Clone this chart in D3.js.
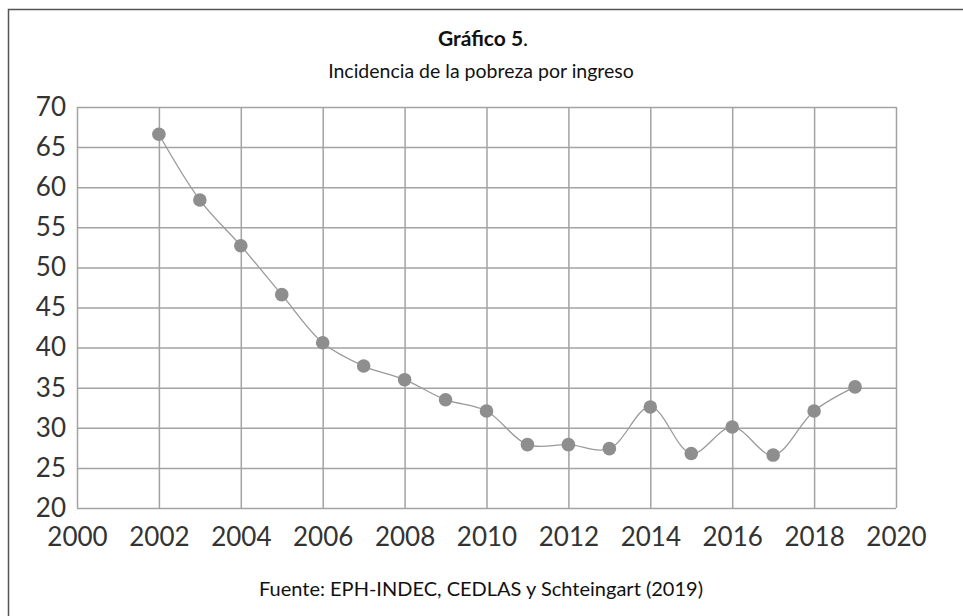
<!DOCTYPE html>
<html>
<head>
<meta charset="utf-8">
<script src="https://cdn.jsdelivr.net/npm/d3@7/dist/d3.min.js"></script>
<style>
  html, body { margin: 0; padding: 0; background: #fff; }
  svg { display: block; }
</style>
</head>
<body>
<svg id="chart" width="963" height="616"></svg>
<script>
// Incidencia de la pobreza por ingreso (%), 2002–2019
const years = [2002, 2003, 2004, 2005, 2006, 2007, 2008, 2009, 2010,
               2011, 2012, 2013, 2014, 2015, 2016, 2017, 2018, 2019];
const poverty = [66.6, 58.4, 52.7, 46.6, 40.6, 37.7, 36.0, 33.5, 32.1,
                 27.9, 27.9, 27.4, 32.6, 26.8, 30.1, 26.6, 32.1, 35.1];
const xTicks = [2000, 2002, 2004, 2006, 2008, 2010, 2012, 2014, 2016, 2018, 2020];
const yTicks = [20, 25, 30, 35, 40, 45, 50, 55, 60, 65, 70];

const titleBold = "Gráfico 5";
const subtitle = "Incidencia de la pobreza por ingreso";
const source = "Fuente: EPH-INDEC, CEDLAS y Schteingart (2019)";

const svg = d3.select("#chart");
const W = 963, H = 616;
const plot = { left: 77, right: 896, top: 107, bottom: 508 };

const x = d3.scaleLinear().domain([2000, 2020]).range([plot.left, plot.right]);
const y = d3.scaleLinear().domain([20, 70]).range([plot.bottom, plot.top]);

const textFont = "Lato, 'Open Sans', sans-serif";
const tickFont = "Lato, 'Open Sans', sans-serif";

// outer frame (top and left edges)
svg.append("path")
  .attr("d", `M8.5,${H} L8.5,9.5 L${W},9.5`)
  .attr("fill", "none")
  .attr("stroke", "#555")
  .attr("stroke-width", 1.5);

// title
const t = svg.append("text")
  .attr("x", 483).attr("y", 46)
  .attr("text-anchor", "middle")
  .style("font-family", textFont)
  .style("font-size", "21px")
  .style("fill", "#111");
t.append("tspan").style("font-weight", "bold").text(titleBold);
t.append("tspan").text(".");

svg.append("text")
  .attr("x", 481).attr("y", 78)
  .attr("text-anchor", "middle")
  .style("font-family", textFont)
  .style("font-size", "19.5px")
  .style("fill", "#111")
  .text(subtitle);

// gridlines
const grid = svg.append("g");
grid.append("g")
  .attr("transform", `translate(${plot.left},0)`)
  .call(d3.axisLeft(y).tickValues(yTicks).tickSize(-(plot.right - plot.left)).tickFormat(""))
  .call(g => g.select(".domain").remove())
  .selectAll("line").attr("stroke", "#a3a3a3").attr("stroke-width", 1.5);
grid.append("g")
  .attr("transform", `translate(0,${plot.bottom})`)
  .call(d3.axisBottom(x).tickValues(xTicks).tickSize(-(plot.bottom - plot.top)).tickFormat(""))
  .call(g => g.select(".domain").remove())
  .selectAll("line").attr("stroke", "#a3a3a3").attr("stroke-width", 1.5);

// tick labels
const yAxis = svg.append("g")
  .attr("transform", `translate(${plot.left},0)`)
  .call(d3.axisLeft(y).tickValues(yTicks).tickSize(0).tickPadding(11).tickFormat(d3.format("d")));
yAxis.select(".domain").remove();
yAxis.selectAll("text")
  .style("font-family", tickFont)
  .style("font-size", "26px")
  .style("fill", "#333");

const xAxis = svg.append("g")
  .attr("transform", `translate(0,${plot.bottom})`)
  .call(d3.axisBottom(x).tickValues(xTicks).tickSize(0).tickPadding(20).tickFormat(d3.format("d")));
xAxis.select(".domain").remove();
xAxis.selectAll("text")
  .style("font-family", tickFont)
  .style("font-size", "26px")
  .style("fill", "#333");

// series
const pts = years.map((yr, i) => [yr, poverty[i]]);
svg.append("path")
  .datum(pts)
  .attr("fill", "none")
  .attr("stroke", "#9a9a9a")
  .attr("stroke-width", 1.3)
  .attr("d", d3.line().x(d => x(d[0])).y(d => y(d[1])).curve(d3.curveCatmullRom.alpha(0.5)));

svg.append("g").selectAll("circle")
  .data(pts)
  .join("circle")
  .attr("cx", d => x(d[0]))
  .attr("cy", d => y(d[1]))
  .attr("r", 6.8)
  .attr("fill", "#8e8e8e");

// source note
svg.append("text")
  .attr("x", 481).attr("y", 596)
  .attr("text-anchor", "middle")
  .style("font-family", textFont)
  .style("font-size", "20px")
  .style("fill", "#111")
  .text(source);
</script>
</body>
</html>
